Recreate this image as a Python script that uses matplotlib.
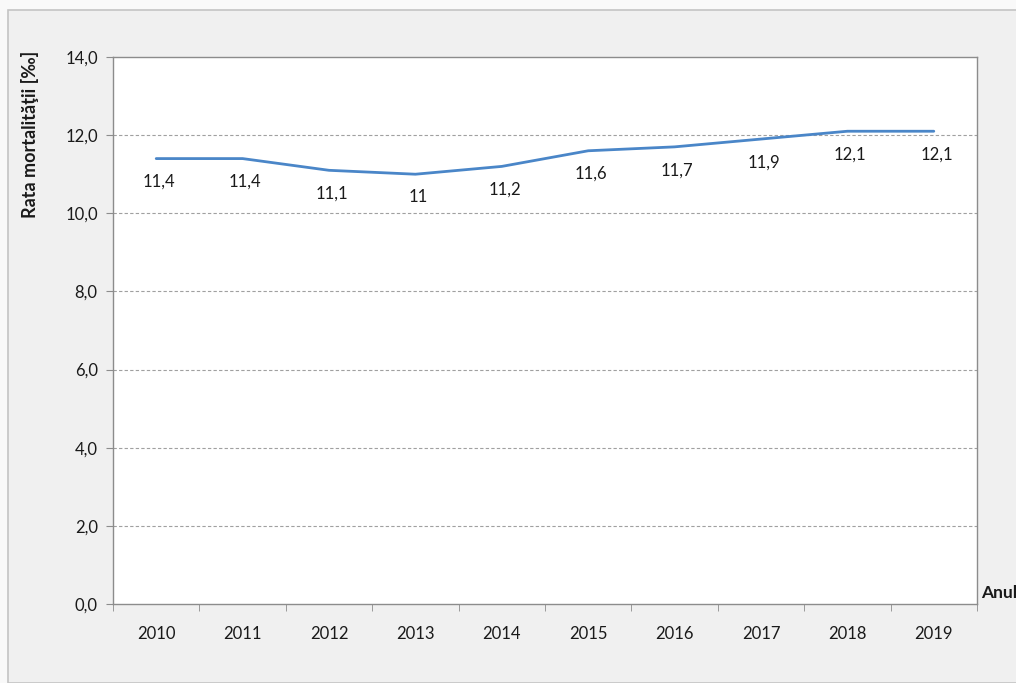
import matplotlib.pyplot as plt
from matplotlib.patches import Rectangle
from matplotlib.ticker import FixedLocator, FuncFormatter
import numpy as np

# Data
years = ["2010", "2011", "2012", "2013", "2014", "2015", "2016", "2017", "2018", "2019"]
rate = [11.4, 11.4, 11.1, 11.0, 11.2, 11.6, 11.7, 11.9, 12.1, 12.1]
point_labels = ["11,4", "11,4", "11,1", "11", "11,2", "11,6", "11,7", "11,9", "12,1", "12,1"]
yticks = [0, 2, 4, 6, 8, 10, 12, 14]

plt.rcParams['font.family'] = ['Lato', 'DejaVu Sans']

fig = plt.figure(figsize=(10.16, 6.83), dpi=100)
fig.patch.set_facecolor('#f9f9f9')

# outer chart frame
frame = Rectangle((8/1016, 0), 1.0, 1 - 10/683, transform=fig.transFigure,
                  facecolor='#f0f0f0', edgecolor='#c4c4c4', linewidth=1.2, zorder=-5)
fig.add_artist(frame)

ax = fig.add_axes([113/1016, 1 - 604/683, 864/1016, 547/683])
ax.set_zorder(2)
ax.set_facecolor('white')

x = np.arange(len(years))
ax.plot(x, rate, color='#4a86c8', linewidth=2.0, solid_capstyle='round', zorder=3)

for xi, yi, lab in zip(x, rate, point_labels):
    ax.annotate(lab, (xi, yi), xytext=(2, -11), textcoords='offset points',
                ha='center', va='top', fontsize=12, color='#1a1a1a')

ax.set_xlim(-0.5, len(years) - 0.5)
ax.set_ylim(0, 14)

# gridlines
for yv in yticks[1:-1]:
    ax.axhline(yv, color='#a0a0a0', linestyle=(0, (3, 2)), linewidth=0.8, zorder=1)

ax.set_yticks(yticks)
ax.yaxis.set_major_formatter(FuncFormatter(lambda v, p: f"{v:.1f}".replace('.', ',')))
ax.set_xticks(x)
ax.set_xticklabels(years)
ax.xaxis.set_minor_locator(FixedLocator(np.arange(-0.5, len(years), 1.0)))
ax.tick_params(axis='x', which='major', length=0, pad=16, labelsize=12, colors='#1a1a1a')
ax.tick_params(axis='x', which='minor', length=5, color='#8c8c8c', direction='out')
ax.tick_params(axis='y', length=5, color='#8c8c8c', pad=6, labelsize=12, labelcolor='#1a1a1a')

for sp in ax.spines.values():
    sp.set_color('#8c8c8c')
    sp.set_linewidth(1.0)

fig.text(30/1016, 1 - 134/683, "Rata mortalităţii [‰]", rotation=90, ha='center', va='center',
         fontsize=13, fontweight='bold', color='#1a1a1a')
fig.text(981/1016, 1 - 593/683, "Anul", ha='left', va='center',
         fontsize=12.5, fontweight='bold', color='#1a1a1a')

fig.savefig("out.png", dpi=100, facecolor=fig.get_facecolor())
